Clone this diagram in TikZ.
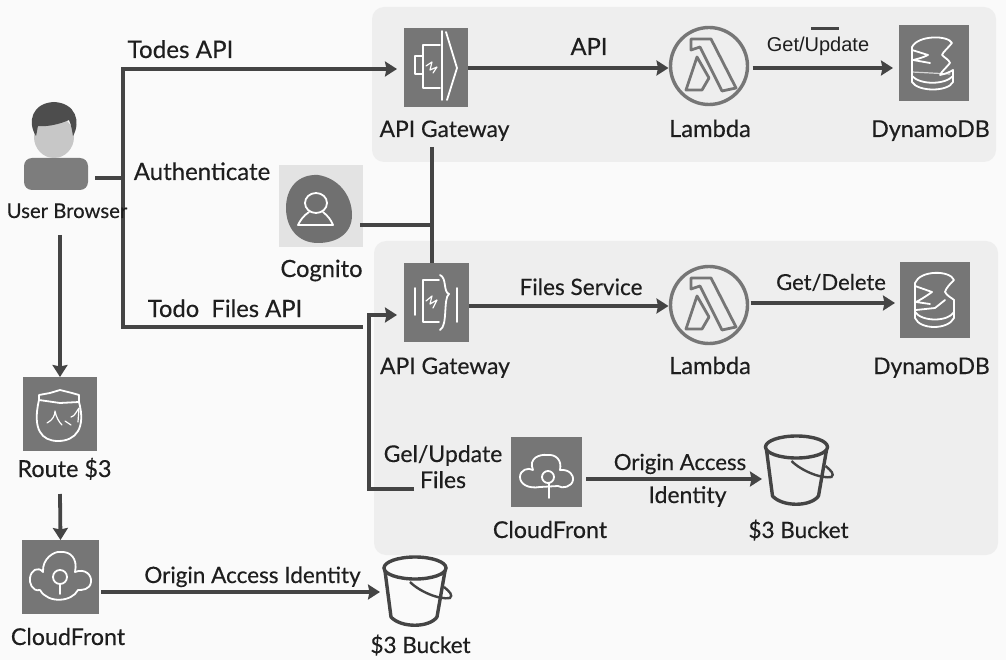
\documentclass[tikz,border=0pt]{standalone}
\usepackage{fontspec}
\setmainfont{Lato}[RawFeature={embolden=0.35}]
\newfontfamily\arialfont{Liberation Sans}
\usetikzlibrary{arrows.meta}
\definecolor{bgc}{HTML}{FAFAFA}
\definecolor{panelc}{HTML}{EEEEEE}
\definecolor{iconc}{HTML}{767676}
\definecolor{linec}{HTML}{444444}
\definecolor{textc}{HTML}{1E1E1E}
\tikzset{
  x=1pt,y=-1pt,
  panel/.style={fill=panelc,rounded corners=12pt},
  ghost/.style={inner sep=0pt,outer sep=0pt,draw=none},
  lbl/.style={anchor=base,inner sep=0pt,text=textc,font=\fontsize{#1}{24}\selectfont},
  flow/.style={draw=linec,line width=3.8pt},
  arrowed/.style={flow,-{Stealth[length=12pt,width=15pt,inset=1.5pt]}},
  glyph/.style={draw=white,line width=1.8pt,line join=round,line cap=round},
  thinglyph/.style={draw=white,line width=1.2pt,line join=round,line cap=round},
  lamglyph/.pic={
    \draw[draw=iconc,line width=2.8pt,line join=round]
      (-18,-27)--(2,-27)--(27,22)--(13,25)--(-9,-19)--(-18,-16)--cycle;
    \draw[draw=iconc,line width=2.8pt,line join=round]
      (-12,-9)--(-23,24)--(-7,24)--(0,12)--cycle;
  },
  bucketglyph/.pic={
    \draw[linec,line width=3.4pt] (0,0) ellipse [x radius=31,y radius=11];
    \draw[linec,line width=3.4pt,line join=round]
      (-30,3)--(-24,49) .. controls (-14,60) and (14,60) .. (22,49)--(30,3);
    \draw[linec,line width=2.4pt]
      (-5,14) .. controls (5,24) and (25,32) .. (35,30) .. controls (38,27) and (35,24) .. (29,19);
  },
}
\begin{document}
\begin{tikzpicture}
\useasboundingbox (0,0) rectangle (1006,660);
\fill[bgc] (0,0) rectangle (1006,660);
% panels
\path[panel] (372,7) rectangle (996,162);
\path[panel] (374,241) rectangle (998,555);

% icon nodes
\node[ghost,fill=iconc,minimum width=64pt,minimum height=79pt] (gw1) at (436,67.5) {};
\node[ghost,fill=iconc,minimum width=65pt,minimum height=79pt] (gw2) at (436.5,302.5) {};
\node[ghost,circle,draw=iconc,line width=3.4pt,minimum size=77pt] (lam1) at (709,66) {};
\node[ghost,circle,draw=iconc,line width=3.4pt,minimum size=77pt] (lam2) at (709,305) {};
\node[ghost,fill=iconc,minimum width=70pt,minimum height=76pt] (dyn1) at (934,63) {};
\node[ghost,fill=iconc,minimum width=70pt,minimum height=76pt] (dyn2) at (935,300) {};
\node[ghost,fill=iconc,minimum width=74pt,minimum height=74pt] (route) at (60,414) {};
\node[ghost,fill=iconc,minimum width=77pt,minimum height=74pt] (cf1) at (60.5,577) {};
\node[ghost,fill=iconc,minimum width=71pt,minimum height=70pt] (cf2) at (546.5,472) {};
\node[ghost,minimum width=68pt,minimum height=68pt] (bucket1) at (417,591) {};
\node[ghost,minimum width=67pt,minimum height=72pt] (bucket2) at (798.5,472) {};
\node[ghost,fill=black!11,minimum width=84pt,minimum height=82pt] (cog) at (321,206) {};
\node[ghost,fill=iconc!95!white,rounded corners=8pt,minimum width=64pt,minimum height=32pt] (user) at (56,174) {};

% user head
\fill[black!22] (54,137) ellipse [x radius=20,y radius=21];
\fill[linec!95!white] (36,136) .. controls (27,122) and (32,103) .. (54,102)
  .. controls (76,103) and (81,122) .. (73,136)
  .. controls (72,130) and (71,124) .. (69,120)
  .. controls (60,124) and (48,127) .. (38,126)
  .. controls (37,130) and (37,133) .. (36,136) -- cycle;

% Cognito glyph
\fill[iconc!95!black] (318,175) .. controls (338,178) and (352,195) .. (352,215)
  .. controls (352,235) and (335,243) .. (318,243)
  .. controls (298,243) and (286,228) .. (286,208)
  .. controls (286,188) and (298,174) .. (318,175) -- cycle;
\draw[glyph] (316,203) ellipse [x radius=11,y radius=10];
\draw[glyph] (309,212) .. controls (303,216) and (300,221) .. (298,225) -- (333,225)
  .. controls (331,220) and (328,216) .. (323,212);

% gateway 1 glyph
\draw[glyph] (442,31)--(442,100);
\draw[glyph] (446,32)--(457,68)--(447,100);
\draw[glyph] (440,45)--(423,45)--(423,88)--(440,88);
\draw[glyph] (423,56)--(415,56)--(415,74)--(423,74);
\draw[thinglyph] (426,66)--(432,62)--(430,70)--(437,67)--(433,73);

% gateway 2 glyph
\draw[glyph] (415,288)--(415,315);
\draw[glyph] (457,288)--(457,322);
\draw[glyph] (439,280)--(423,280)--(423,322)--(439,322);
\draw[glyph] (440,275) .. controls (447,278) and (443,292) .. (449,294) .. controls (443,298) and (448,326) .. (440,330);
\draw[thinglyph] (426,301)--(432,296)--(430,304)--(437,300)--(433,308);

% lambdas
\pic at (lam1.center) {lamglyph};
\pic at (lam2.center) {lamglyph};

% dynamo 1
\draw[glyph] (912,47) .. controls (918,35) and (948,35) .. (952,43)
  .. controls (948,48) and (943,52) .. (942,55) .. controls (945,58) and (949,60) .. (950,63)
  .. controls (946,68) and (942,71) .. (940,75) .. controls (945,74) and (950,72) .. (953,70)
  -- (953,82)
  .. controls (948,92) and (918,92) .. (912,82) -- cycle;
\draw[glyph] (912,50) -- (928,55) .. controls (922,58) and (917,59) .. (913,60) -- (930,63);
\draw[thinglyph,opacity=.7] (912,72) -- (950,74);
\draw[glyph] (912,76) .. controls (920,85) and (945,85) .. (953,76);

% dynamo 2
\draw[glyph] (915,283) .. controls (920,270) and (950,270) .. (954,280)
  .. controls (950,284) and (946,288) .. (945,292) .. controls (947,296) and (952,298) .. (954,300) -- (954,318)
  .. controls (948,330) and (920,330) .. (915,318) -- cycle;
\draw[glyph] (915,286) -- (932,292) .. controls (925,297) and (920,300) .. (916,302) -- (930,304);
\draw[glyph] (916,310) -- (935,308) -- (945,300);
\draw[glyph] (915,312) .. controls (922,322) and (948,322) .. (954,312);

% Route glyph
\draw[glyph] (39,395)--(50,393)--(60,390)--(72,393)--(79,395)--(79,402)--(60,403)--(39,400)--cycle;
\draw[glyph] (39,400) .. controls (32,430) and (42,441) .. (58,441) .. controls (76,441) and (86,428) .. (79,402);
\draw[thinglyph] (47,423) .. controls (53,420) and (55,415) .. (55,411) .. controls (56,417) and (59,422) .. (62,425);
\draw[thinglyph] (65,421)--(71,425);
\draw[thinglyph] (71,417) .. controls (75,416) and (76,412) .. (79,408) -- (78,422);

% cloudfront 1 glyph
\draw[glyph] (43,572) .. controls (42,558) and (55,551) .. (60,552)
  .. controls (70,551) and (78,558) .. (75,572)
  .. controls (85,568) and (92,575) .. (91,582)
  .. controls (90,590) and (82,590) .. (78,590)
  .. controls (72,602) and (48,604) .. (40,590)
  .. controls (32,592) and (29,582) .. (30,578)
  .. controls (31,570) and (38,566) .. (43,572) -- cycle;
\draw[glyph] (60,577) circle [radius=7];
\draw[glyph] (60,584)--(60,594);

% cloudfront 2 glyph
\draw[glyph] (533,470) .. controls (528,458) and (540,454) .. (547,455)
  .. controls (556,454) and (562,460) .. (560,470)
  .. controls (570,469) and (574,476) .. (573,480)
  .. controls (572,487) and (562,489) .. (558,486)
  -- (540,487)
  .. controls (528,489) and (520,484) .. (520,477)
  .. controls (520,470) and (528,467) .. (533,470) -- cycle;
\draw[glyph] (548,477) circle [radius=6];
\draw[glyph] (549,483)--(549,498);

% buckets
\pic at ([xshift=-2pt,yshift=23pt]bucket1.center) {bucketglyph};
\pic at ([xshift=-2pt,yshift=25pt]bucket2.center) {bucketglyph};

% free ends
\coordinate (spineT) at (123,69);
\coordinate (spineM) at (123,178);
\coordinate (spineB) at (123,327);
\coordinate (filesEnd) at (363,327);
\coordinate (riserB) at (369,489);
\coordinate (riserT) at (369,315);
\coordinate (getEnd) at (414,489);
\coordinate (junction) at (432,225);
\coordinate (userDown) at (60,235);

% connectors
\draw[flow] ([xshift=7pt,yshift=-4pt]user.east) -- (spineM);
\draw[arrowed] (filesEnd) -- (spineB) -- (spineT) -- ([xshift=-7pt,yshift=-1.5pt]gw1.west);
\draw[arrowed] (getEnd) -- (riserB) -- (riserT) -- ([xshift=-7pt,yshift=-12.5pt]gw2.west);
\draw[flow] ([xshift=-4pt,yshift=-40pt]gw1.south) -- ([xshift=-4.5pt]gw2.north);
\draw[flow] ([xshift=-3pt,yshift=-19pt]cog.east) -- (junction);
\draw[arrowed] ([yshift=-0.5pt]gw1.east) -- ([xshift=-2pt,yshift=-2pt]lam1.west);
\draw[arrowed] ([xshift=5pt,yshift=-2pt]lam1.east) -- ([xshift=-6pt,yshift=-5pt]dyn1.west);
\draw[arrowed] ([yshift=-3.5pt]gw2.east) -- ([xshift=-2pt,yshift=-1pt]lam2.west);
\draw[arrowed] ([xshift=3pt,yshift=2pt]lam2.east) -- ([xshift=-5pt,yshift=-3pt]dyn2.west);
\draw[arrowed] ([xshift=4pt,yshift=-7pt]cf2.east) -- ([xshift=-3pt,yshift=-7pt]bucket2.west);
\draw[arrowed] (userDown) -- (route.north);
\draw[arrowed] ([yshift=-43pt]route.south) -- (cf1.north);
\draw[arrowed] ([xshift=2pt,yshift=-15pt]cf1.east) -- ([xshift=-3pt,yshift=-1pt]bucket1.west);
\fill[linec] (811,27.5) rectangle (839,30.5);

% labels
\node[lbl=24.2] (t1) at (180.5,58) {Todes API};
\node[lbl=24] (t2) at (202,180) {Authenticate};
\node[lbl=20.3] (t3) at (67,218) {User Browser};
\node[lbl=23.7] (t4) at (321.5,277) {Cognito};
\node[lbl=23.8] (t5) at (225,317) {Todo\ \ Files API};
\node[lbl=22.8] (t6) at (444.5,137) {API Gateway};
\node[lbl=22.8] (t7) at (445,374) {API Gateway};
\node[lbl=23.7] (t8) at (589,55) {API};
\node[lbl=23.7] (t9) at (710,137) {Lambda};
\node[lbl=23.7] (t10) at (710,374) {Lambda};
\node[anchor=base,inner sep=0pt,text=textc,font=\arialfont\fontsize{20}{22}\selectfont] (t11) at (818,52) {Get/Update};
\node[lbl=23.2] (t12) at (930.5,137) {DynamoDB};
\node[lbl=22.8] (t13) at (931.5,374) {DynamoDB};
\node[lbl=22.6] (t14) at (581,295) {Files Service};
\node[lbl=22] (t15) at (831,290) {Get/Delete};
\node[lbl=23] (t16) at (443,462) {Gel/Update};
\node[lbl=23] (t17) at (443,488) {Files};
\node[lbl=23.2] (t18) at (550,538) {CloudFront};
\node[lbl=22.2] (t19) at (680,470) {Origin Access};
\node[lbl=23] (t20) at (687.5,503) {Identity};
\node[lbl=22.5] (t21) at (798.5,538) {\$3 Bucket};
\node[lbl=22.5] (t22) at (420.5,653) {\$3 Bucket};
\node[lbl=23.4] (t23) at (64.5,477) {Route \$3};
\node[lbl=23.2] (t24) at (68,645) {CloudFront};
\node[lbl=22.5] (t25) at (252.5,583) {Origin Access Identity};
\end{tikzpicture}
\end{document}
